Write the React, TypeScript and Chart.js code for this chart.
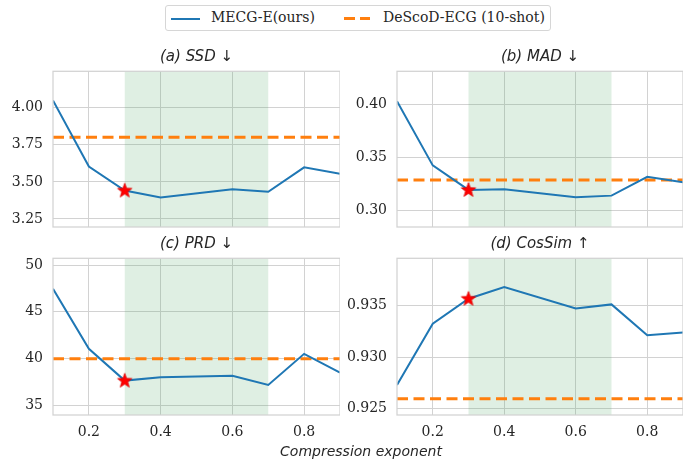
import React, { useEffect, useRef } from "react";
import Chart from "chart.js/auto";

// ---- data ----
const X_VALUES = [0.1, 0.2, 0.3, 0.4, 0.6, 0.7, 0.8, 0.9];
const SSD = [4.049, 3.603, 3.442, 3.395, 3.451, 3.433, 3.598, 3.555];
const MAD = [0.4031, 0.3425, 0.3194, 0.32, 0.3125, 0.314, 0.3318, 0.3265];
const PRD = [47.46, 41.04, 37.64, 38.0, 38.15, 37.18, 40.5, 38.5];
const COSSIM = [0.92729, 0.93326, 0.93568, 0.93681, 0.93474, 0.93513, 0.93213, 0.93239];
const BASELINE_VALUES = [3.8, 0.3288, 39.97, 0.92597];
const BEST_X = 0.3;
const SPAN = [0.3, 0.7];
const X_RANGE = [0.1, 0.9];
const X_TICKS = [0.2, 0.4, 0.6, 0.8];
const TITLES = ["(a) SSD \u2193", "(b) MAD \u2193", "(c) PRD \u2193", "(d) CosSim \u2191"];
const Y_RANGES = [
  [3.196, 4.245],
  [0.2844, 0.4313],
  [33.96, 50.72],
  [0.92438, 0.93961],
];
const Y_TICKS = [
  [3.25, 3.5, 3.75, 4.0],
  [0.3, 0.35, 0.4],
  [35, 40, 45, 50],
  [0.925, 0.93, 0.935],
];
const Y_DECIMALS = [2, 2, 0, 3];
const LEGEND_LABELS = ["MECG-E(ours)", "DeScoD-ECG (10-shot)"];
const X_LABEL = "Compression exponent";
const SERIES = [SSD, MAD, PRD, COSSIM];

const BLUE = "#1f77b4";
const ORANGE = "#ff7f0e";
const GRID = "#d2d2d2";
const TEXT = "#262626";
const SPAN_COLOR = "rgba(85,168,104,0.19)";

function makeStar(): HTMLCanvasElement {
  const c = document.createElement("canvas");
  c.width = 18;
  c.height = 18;
  const ctx = c.getContext("2d")!;
  const cx = 9, cy = 9.3, R = 7.6, r = 3.1;
  ctx.beginPath();
  for (let i = 0; i < 10; i++) {
    const ang = -Math.PI / 2 + (i * Math.PI) / 5;
    const rad = i % 2 === 0 ? R : r;
    ctx.lineTo(cx + rad * Math.cos(ang), cy + rad * Math.sin(ang));
  }
  ctx.closePath();
  ctx.fillStyle = "#ff0000";
  ctx.fill();
  ctx.strokeStyle = "#e00000";
  ctx.lineWidth = 0.8;
  ctx.stroke();
  return c;
}

const spanPlugin = {
  id: "spanShade",
  beforeDatasetsDraw(chart: any) {
    const { ctx, chartArea, scales } = chart;
    const x0 = scales.x.getPixelForValue(SPAN[0]);
    const x1 = scales.x.getPixelForValue(SPAN[1]);
    ctx.save();
    ctx.fillStyle = SPAN_COLOR;
    ctx.fillRect(x0, chartArea.top, x1 - x0, chartArea.bottom - chartArea.top);
    ctx.restore();
  },
  afterDatasetsDraw(chart: any) {
    const { ctx, chartArea } = chart;
    ctx.save();
    ctx.strokeStyle = GRID;
    ctx.lineWidth = 1.25;
    ctx.strokeRect(chartArea.left, chartArea.top, chartArea.right - chartArea.left, chartArea.bottom - chartArea.top);
    ctx.restore();
  },
  afterDraw(chart: any) {
    const { ctx, chartArea } = chart;
    const text = chart.options.plugins.panelTitle.text;
    ctx.save();
    ctx.fillStyle = TEXT;
    ctx.font = "italic 15px 'DejaVu Sans'";
    ctx.textAlign = "center";
    ctx.textBaseline = "middle";
    ctx.fillText(text, (chartArea.left + chartArea.right) / 2, chartArea.top - 14);
    ctx.restore();
  },
};

type PanelProps = { idx: number; left: number; top: number; width: number; height: number; bottomRow: boolean };

function Panel({ idx, left, top, width, height, bottomRow }: PanelProps) {
  const ref = useRef<HTMLCanvasElement>(null);
  useEffect(() => {
    const canvas = ref.current!;
    const values = SERIES[idx];
    const bestIdx = X_VALUES.indexOf(BEST_X);
    const star = makeStar();
    const chart = new Chart(canvas, {
      type: "line",
      data: {
        datasets: [
          {
            label: "best",
            data: [{ x: BEST_X, y: values[bestIdx] }],
            showLine: false,
            pointStyle: star as any,
            pointRadius: 8,
            order: 0,
          },
          {
            label: LEGEND_LABELS[0],
            data: X_VALUES.map((x, i) => ({ x, y: values[i] })),
            borderColor: BLUE,
            borderWidth: 2,
            pointRadius: 0,
            tension: 0,
            order: 1,
          },
          {
            label: LEGEND_LABELS[1],
            data: [
              { x: X_RANGE[0], y: BASELINE_VALUES[idx] },
              { x: X_RANGE[1], y: BASELINE_VALUES[idx] },
            ],
            borderColor: ORANGE,
            borderWidth: 3,
            borderDash: [11, 5.5],
            pointRadius: 0,
            order: 2,
          },
        ],
      },
      options: {
        animation: false,
        responsive: false,
        maintainAspectRatio: false,
        devicePixelRatio: 1,
        layout: { autoPadding: false, padding: { top: 22.3, left: 0, right: 0, bottom: 0 } },
        plugins: {
          legend: { display: false },
          tooltip: { enabled: false },
          title: { display: false },
          panelTitle: { text: TITLES[idx] },
        },
        scales: {
          x: {
            type: "linear",
            min: X_RANGE[0],
            max: X_RANGE[1],
            grid: { color: GRID, lineWidth: 1, drawTicks: false },
            border: { display: false },
            afterBuildTicks: (s: any) => {
              s.ticks = X_TICKS.map((v) => ({ value: v }));
            },
            ticks: {
              display: bottomRow,
              autoSkip: false,
              maxRotation: 0,
              padding: 8.5,
              color: TEXT,
              font: { family: "DejaVu Serif", size: 14, lineHeight: 1.2 },
              callback: (v: any) => Number(v).toFixed(1),
            },
            afterFit: (s: any) => {
              s.height = bottomRow ? 30 : 10;
              s.paddingLeft = 0;
              s.paddingRight = 0;
              s.paddingTop = 0;
              s.paddingBottom = 0;
            },
          },
          y: {
            type: "linear",
            min: Y_RANGES[idx][0],
            max: Y_RANGES[idx][1],
            grid: { color: GRID, lineWidth: 1, drawTicks: false },
            border: { display: false },
            afterBuildTicks: (s: any) => {
              s.ticks = Y_TICKS[idx].map((v) => ({ value: v }));
            },
            ticks: {
              autoSkip: false,
              padding: 10,
              color: TEXT,
              font: { family: "DejaVu Serif", size: 14, lineHeight: 1.2 },
              callback: (v: any) => Number(v).toFixed(Y_DECIMALS[idx]),
            },
            afterFit: (s: any) => {
              s.width = 53;
              s.paddingLeft = 0;
              s.paddingRight = 0;
              s.paddingTop = 0;
              s.paddingBottom = 0;
            },
          },
        },
      },
      plugins: [spanPlugin],
    } as any);
    return () => chart.destroy();
  }, [idx, bottomRow]);
  return (
    <canvas
      ref={ref}
      width={width}
      height={height}
      style={{ position: "absolute", left, top, width, height }}
    />
  );
}

function LegendSample({ dashed, color }: { dashed: boolean; color: string }) {
  if (!dashed) {
    return <div style={{ width: 29, height: 0, borderTop: `2px solid ${color}` }} />;
  }
  return (
    <div style={{ width: 26, height: 3, display: "flex", gap: 5 }}>
      <div style={{ width: 10.5, height: 3, background: color }} />
      <div style={{ width: 10.5, height: 3, background: color }} />
    </div>
  );
}

export default function App() {
  return (
    <div style={{ position: "absolute", left: 0, top: 0, width: 697, height: 464, background: "#fff", overflow: "hidden" }}>
      <div
        style={{
          position: "absolute",
          left: 165,
          top: 5,
          width: 384,
          height: 24,
          border: "1px solid #d6d6d6",
          borderRadius: 3,
          fontFamily: "DejaVu Serif",
          fontSize: 14,
          color: TEXT,
        }}
      >
        <div style={{ position: "absolute", left: 5, top: 12 }}>
          <LegendSample dashed={false} color={BLUE} />
        </div>
        <div style={{ position: "absolute", left: 45, top: 3, lineHeight: "17px", whiteSpace: "nowrap" }}>{LEGEND_LABELS[0]}</div>
        <div style={{ position: "absolute", left: 178, top: 11 }}>
          <LegendSample dashed={true} color={ORANGE} />
        </div>
        <div style={{ position: "absolute", left: 217, top: 3, lineHeight: "17px", whiteSpace: "nowrap" }}>{LEGEND_LABELS[1]}</div>
      </div>
      <Panel idx={0} left={0} top={49} width={340} height={188} bottomRow={false} />
      <Panel idx={1} left={344} top={49} width={339} height={188} bottomRow={false} />
      <Panel idx={2} left={0} top={236} width={340} height={209} bottomRow={true} />
      <Panel idx={3} left={344} top={236} width={339} height={209} bottomRow={true} />
      <div
        style={{
          position: "absolute",
          left: 261,
          width: 200,
          top: 443,
          textAlign: "center",
          fontFamily: "DejaVu Sans",
          fontStyle: "italic",
          fontSize: 14,
          lineHeight: "17px",
          color: TEXT,
          whiteSpace: "nowrap",
        }}
      >
        {X_LABEL}
      </div>
    </div>
  );
}
